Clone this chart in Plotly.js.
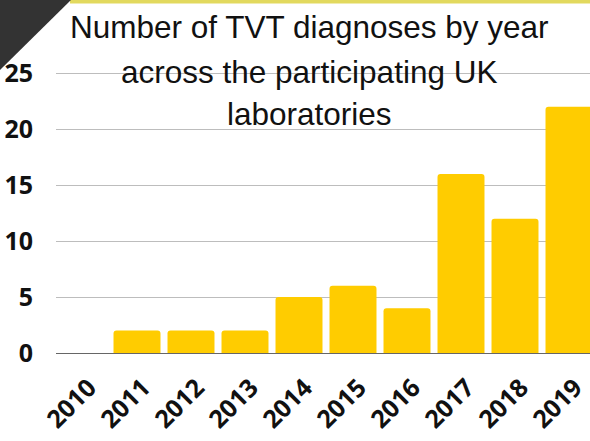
<!DOCTYPE html>
<html>
<head>
<meta charset="utf-8">
<script src="https://cdn.plot.ly/plotly-3.0.1.min.js"></script>
<style>
html,body{margin:0;padding:0;overflow:hidden;background:#fff;}
#wrap{width:590px;height:441px;overflow:hidden;}
#chart{width:600px;height:441px;}
</style>
</head>
<body>
<div id="wrap"><div id="chart"></div></div>
<script>
const years = ["2010","2011","2012","2013","2014","2015","2016","2017","2018","2019"];
const diagnoses = [0, 2, 2, 2, 5, 6, 4, 16, 12, 22];
const yTicks = [0, 5, 10, 15, 20, 25];
const titleLines = ["Number of TVT diagnoses by year", "across the participating UK", "laboratories"];

const W = 600, H = 441;
const mL = 56, mR = 4, mT = 62, mB = 88;
const pw = W - mL - mR, ph = H - mT - mB;
const px = x => (x - mL) / pw;
const py = y => (H - mB - y) / ph;

const trace = {
  type: "bar",
  x: years,
  y: diagnoses,
  marker: {color: "#FFCC00", cornerradius: 3},
  hoverinfo: "x+y"
};

const titleFont = {family: "Liberation Sans, Arial, sans-serif", size: 31.5, color: "#111"};
const titleCenters = [27, 72, 114];
const annotations = titleLines.map((t, i) => ({
  text: t, showarrow: false, xref: "paper", yref: "paper",
  x: px(309), y: py(titleCenters[i]), xanchor: "center", yanchor: "middle",
  font: titleFont
}));

const layout = {
  width: W, height: H,
  margin: {l: mL, r: mR, t: mT, b: mB, pad: 0},
  paper_bgcolor: "#ffffff",
  plot_bgcolor: "#ffffff",
  showlegend: false,
  bargap: 0.13,
  annotations: annotations,
  xaxis: {
    type: "category",
    tickangle: -45,
    tickfont: {family: "Open Sans, sans-serif", size: 25, color: "#111", weight: "bold"},
    showgrid: false,
    showline: false,
    ticks: "",
    ticklabelstandoff: 14,
    ticklabelshift: 6,
    automargin: false
  },
  yaxis: {
    range: [0, 26],
    tickvals: yTicks,
    ticktext: yTicks.map(String),
    tickfont: {family: "Open Sans, sans-serif", size: 25, color: "#111", weight: "bold"},
    showgrid: true,
    gridcolor: "#bdbdbd",
    gridwidth: 1,
    zeroline: true,
    zerolinecolor: "#666",
    zerolinewidth: 1,
    showline: false,
    ticks: "outside",
    ticklen: 17,
    tickcolor: "rgba(0,0,0,0)",
    automargin: false,
    fixedrange: true
  },
  shapes: [
    {type: "rect", xref: "paper", yref: "paper",
     x0: px(70), x1: px(W + 5), y0: py(3.5), y1: py(-2),
     fillcolor: "#E2D95E", line: {width: 0}, layer: "above"},
    {type: "path", xref: "paper", yref: "paper",
     path: `M ${px(-2)} ${py(-2)} L ${px(73)} ${py(-2)} L ${px(-2)} ${py(72)} Z`,
     fillcolor: "#333333", line: {width: 0}, layer: "above"}
  ]
};

Plotly.newPlot("chart", [trace], layout, {displayModeBar: false, staticPlot: true});
</script>
</body>
</html>
